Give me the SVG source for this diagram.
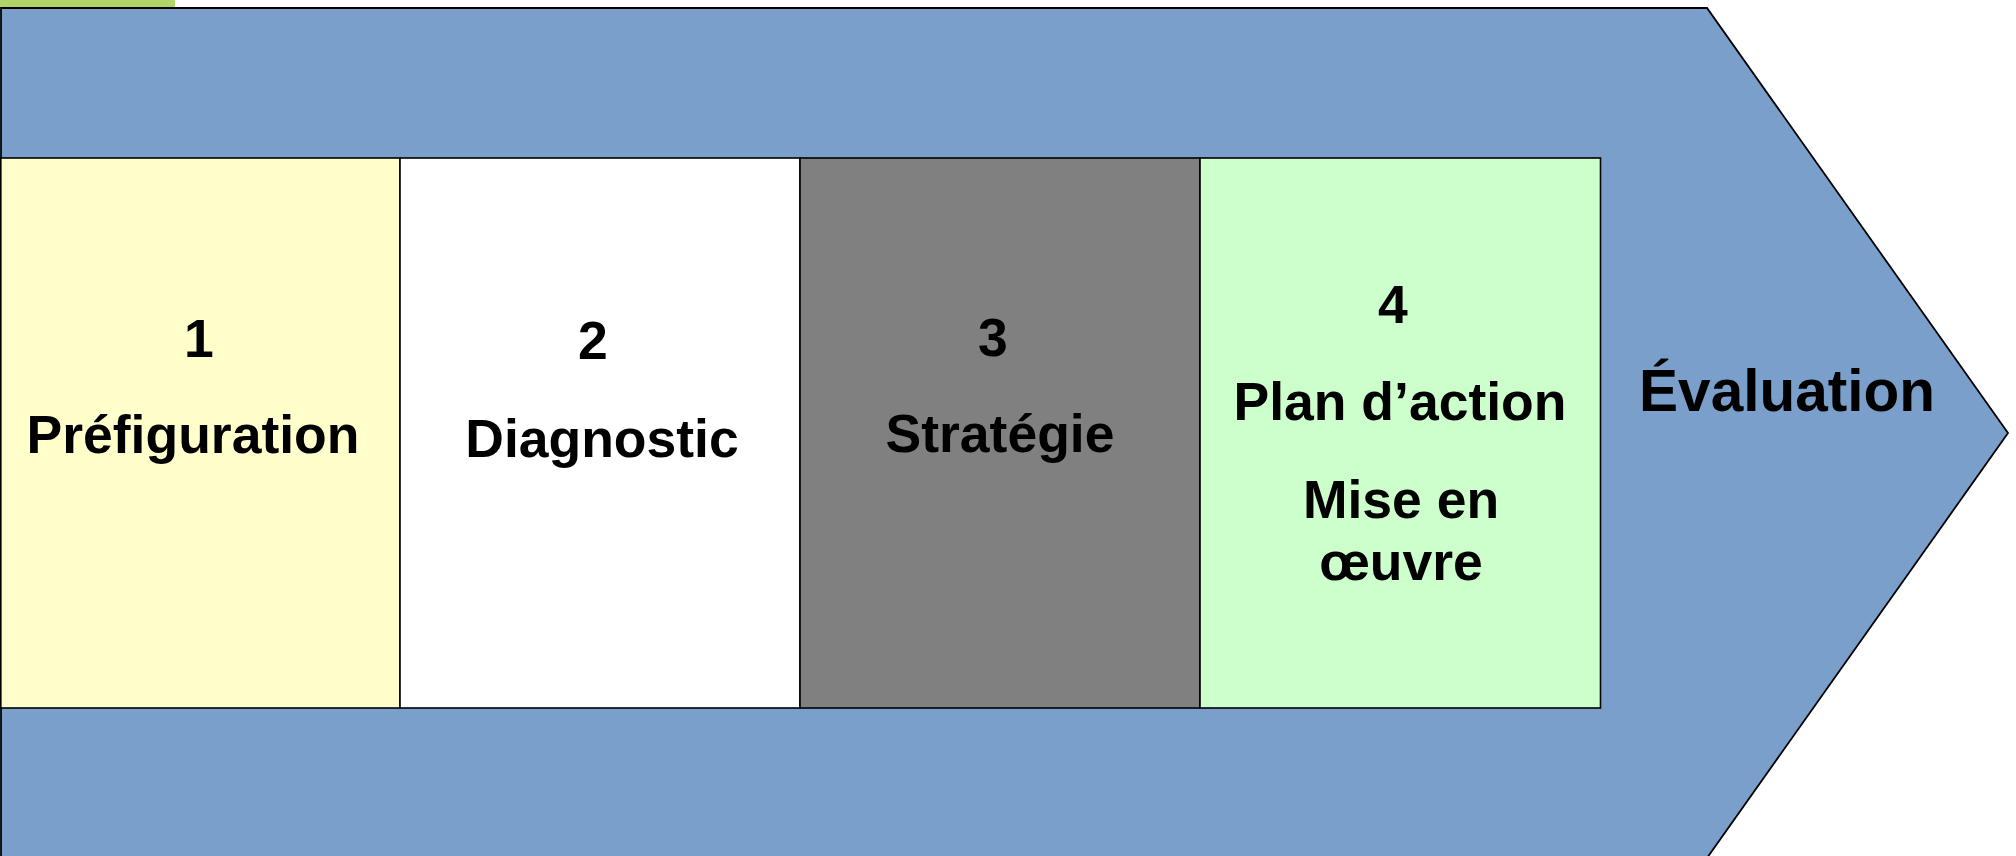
<svg xmlns="http://www.w3.org/2000/svg" width="2016" height="856" viewBox="0 0 2016 856">
<style>
.t{font-family:"Liberation Sans",Arial,sans-serif;font-weight:bold;fill:#000;text-anchor:middle}
.n{font-size:53.5px}
.e{font-size:58.5px}
.box{stroke:#000;stroke-width:1.6}
</style>
<rect x="0" y="0" width="800" height="856" fill="#fff"/>
<rect id="strip" x="0" y="0" width="175" height="8" fill="#b0d468"/>
<g id="arrow">
<polygon points="1,8 1707,8 2008,433 1707,858 1,858" fill="#7a9fcb" stroke="#000" stroke-width="1.8"/>
<text class="t e" x="1787" y="411">Évaluation</text>
</g>
<g id="step1">
<rect class="box" x="0.8" y="158" width="399.2" height="550" fill="#ffffcc"/>
<text class="t n" x="199" y="357">1</text>
<text class="t n" x="193" y="453">Préfiguration</text>
</g>
<g id="step2">
<rect class="box" x="400" y="158" width="400" height="550" fill="#ffffff"/>
<text class="t n" x="593" y="359">2</text>
<text class="t n" x="602" y="457">Diagnostic</text>
</g>
<g id="step3">
<rect class="box" x="800" y="158" width="400" height="550" fill="#808080"/>
<text class="t n" x="993" y="356">3</text>
<text class="t n" x="1000" y="452">Stratégie</text>
</g>
<g id="step4">
<rect class="box" x="1200" y="158" width="400.5" height="550" fill="#ccffcc"/>
<text class="t n" x="1393" y="323">4</text>
<text class="t n" x="1400" y="420">Plan d’action</text>
<text class="t n" x="1401" y="518">Mise en</text>
<text class="t n" x="1401" y="580">œuvre</text>
</g>
<g id="connectors"></g>
</svg>
